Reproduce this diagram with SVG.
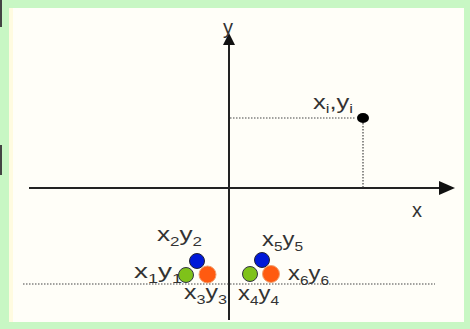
<svg xmlns="http://www.w3.org/2000/svg" width="470" height="329" viewBox="0 0 470 329">
  <defs>
    <style>
      .lbl { font-family: "Liberation Sans", Arial, sans-serif; font-size: 20px; fill: #333; }
      .sub { font-size: 13px; }
      .axis { stroke: #222; stroke-width: 2; fill: none; }
      .dot { stroke: #444; stroke-width: 1.2; stroke-dasharray: 1.5 1.5; fill: none; }
      .blue { fill: #0018d8; stroke: #223; stroke-width: 1; }
      .green { fill: #7fc21a; stroke: #334; stroke-width: 1; }
      .orange { fill: #ff5a10; stroke: #f0a070; stroke-width: 1; }
    </style>
  </defs>
  <rect x="0" y="0" width="470" height="329" fill="#c8f7c4"/>
  <rect x="9" y="8" width="455" height="314" fill="#fffef8"/>
  <rect x="9" y="8" width="4" height="314" fill="#fffbe0"/>
  <rect x="0" y="0" width="2" height="27" fill="#444"/>
  <rect x="0" y="145" width="2" height="30" fill="#444"/>

  <g id="connectors">
    <line class="axis" x1="229" y1="320" x2="229" y2="40"/>
    <path d="M229,33 L235,45 L223,45 z" fill="#111"/>
    <line class="axis" x1="29" y1="188" x2="440" y2="188"/>
    <path d="M455,188 L439,181 L439,195 z" fill="#111"/>
    <line class="dot" x1="230" y1="118" x2="356" y2="118"/>
    <line class="dot" x1="363" y1="123" x2="363" y2="188"/>
    <line class="dot" x1="23" y1="284" x2="435" y2="284"/>
  </g>

  <g id="axis-y-label"><text class="lbl" x="223" y="34" font-size="20">y</text></g>
  <g id="axis-x-label"><text class="lbl" x="412" y="217" font-size="22">x</text></g>

  <g id="point-i">
    <ellipse cx="363" cy="118" rx="6" ry="5" fill="#000"/>
    <text class="lbl" x="313" y="109" textLength="40" lengthAdjust="spacingAndGlyphs">x<tspan class="sub" dy="4">i</tspan><tspan dy="-4">,y</tspan><tspan class="sub" dy="4">i</tspan></text>
  </g>

  <g id="cluster-left">
    <circle class="blue" cx="197" cy="261" r="7.5"/>
    <circle class="green" cx="186" cy="275" r="7.5"/>
    <circle class="orange" cx="207.5" cy="274.5" r="8.5"/>
    <text class="lbl" x="157" y="241" textLength="45" lengthAdjust="spacingAndGlyphs">x<tspan class="sub" dy="5">2</tspan><tspan dy="-5">y</tspan><tspan class="sub" dy="5">2</tspan></text>
    <text class="lbl" x="134" y="278" textLength="48" lengthAdjust="spacingAndGlyphs">x<tspan class="sub" dy="5">1</tspan><tspan dy="-5">y</tspan><tspan class="sub" dy="5">1</tspan></text>
    <text class="lbl" x="184" y="299" textLength="43" lengthAdjust="spacingAndGlyphs">x<tspan class="sub" dy="5">3</tspan><tspan dy="-5">y</tspan><tspan class="sub" dy="5">3</tspan></text>
  </g>

  <g id="cluster-right">
    <circle class="blue" cx="262" cy="260" r="7.5"/>
    <circle class="green" cx="250" cy="274" r="7.5"/>
    <circle class="orange" cx="271" cy="274" r="8.5"/>
    <text class="lbl" x="262" y="246" textLength="41" lengthAdjust="spacingAndGlyphs">x<tspan class="sub" dy="5">5</tspan><tspan dy="-5">y</tspan><tspan class="sub" dy="5">5</tspan></text>
    <text class="lbl" x="288" y="280" textLength="41" lengthAdjust="spacingAndGlyphs">x<tspan class="sub" dy="5">6</tspan><tspan dy="-5">y</tspan><tspan class="sub" dy="5">6</tspan></text>
    <text class="lbl" x="238" y="300" textLength="41" lengthAdjust="spacingAndGlyphs">x<tspan class="sub" dy="5">4</tspan><tspan dy="-5">y</tspan><tspan class="sub" dy="5">4</tspan></text>
  </g>
</svg>
